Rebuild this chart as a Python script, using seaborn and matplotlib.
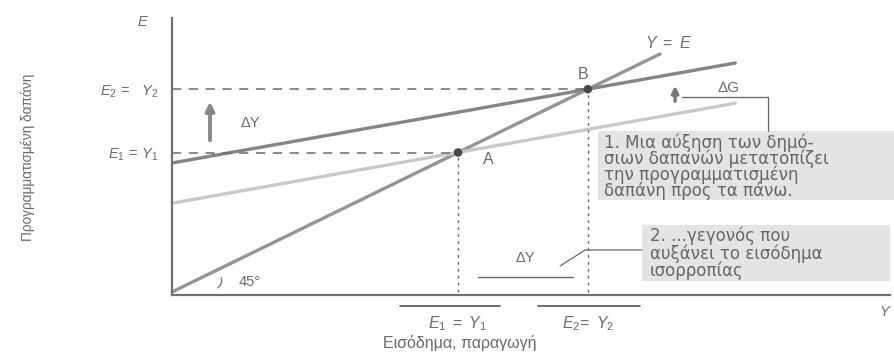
import numpy as np
import pandas as pd
import seaborn as sns
import matplotlib.pyplot as plt
import matplotlib.patches as patches

# Keynesian cross: government spending shift
income_45 = [0, 100]
spending_45 = [0, 100]
income_ends = [0, 115.4]
spending_E1 = [37.3, 79.3]   # planned spending before the shift
spending_E2 = [54.2, 96.2]   # planned spending after ΔG
eq_income = [58.6, 85.2]     # A, B
eq_names = ['A', 'B']
eq_ticklabels = [r'$E_1\ =\ Y_1$', r'$E_2\!=\ Y_2$']
eq_ylabels = [r'$E_1\,=\,Y_1$', r'$E_2\,=\,\ \ Y_2$']

box1_text = "1. Μια αύξηση των δημό-\nσιων δαπανών μετατοπίζει\nτην προγραμματισμένη\nδαπάνη προς τα πάνω."
box2_text = "2. ...γεγονός που\nαυξάνει το εισόδημα\nισορροπίας"

sns.set_style("white")
plt.rcParams['font.family'] = ['Liberation Sans', 'DejaVu Sans']
plt.rcParams['mathtext.fontset'] = 'custom'
plt.rcParams['mathtext.it'] = 'Liberation Sans:italic'
plt.rcParams['mathtext.rm'] = 'Liberation Sans'

txt = '#6a6a6a'
box_font = ['DejaVu Sans']

fig = plt.figure(figsize=(8.95, 3.53), dpi=100)
ax = fig.add_axes([172/895, 1 - 295/353, (890-172)/895, (295-18)/353])
ax.set_xlim(0, 147.1)
ax.set_ylim(-1.26, 115.1)


def at(px, py):
    # pixel position in the picture -> data coords
    return (px - 172) / 4.88, (292 - py) / 2.38


lines = pd.DataFrame({
    'Y': income_45 + income_ends + income_ends,
    'E': spending_45 + spending_E1 + spending_E2,
    'line': ['45'] * 2 + ['E1'] * 2 + ['E2'] * 2,
})
sns.lineplot(data=lines, x='Y', y='E', hue='line', ax=ax, legend=False,
             palette={'45': '#959595', 'E1': '#c9c9c9', 'E2': '#858585'},
             linewidth=2.4, estimator=None, sort=False)

# guides to the equilibria
for xv in eq_income:
    ax.plot([0, xv], [xv, xv], color='#6a6a6a', lw=1.1, ls=(0, (6, 5)))
    ax.plot([xv, xv], [0, xv], color='#6a6a6a', lw=1.0, ls=(0, (2, 3)))

pts = pd.DataFrame({'Y': eq_income, 'E': eq_income, 'name': eq_names})
sns.scatterplot(data=pts, x='Y', y='E', ax=ax, color='#4a4a4a', s=38,
                edgecolor='none', zorder=5)

for sp in ['top', 'right']:
    ax.spines[sp].set_visible(False)
for sp in ['left', 'bottom']:
    ax.spines[sp].set_color('#707070')
    ax.spines[sp].set_linewidth(1.6)

ax.set_xticks(eq_income)
ax.set_xticklabels(eq_ticklabels, fontsize=11.5, color=txt)
ax.set_yticks(eq_income)
ax.set_yticklabels(eq_ylabels, fontsize=10.5, color=txt)
ax.tick_params(axis='x', length=0, pad=14)
ax.tick_params(axis='y', length=0, pad=10)
ax.set_xlabel('')
ax.set_ylabel('')

# overlines above x tick labels
for x0, x1 in [(400, 500), (538, 640)]:
    a, yy = at(x0, 306)
    b, _ = at(x1, 306)
    ax.plot([a, b], [yy, yy], color='#555555', lw=1.2, clip_on=False)

ax.text(*at(460, 343), 'Εισόδημα, παραγωγή', fontsize=11.5, color=txt,
        ha='center', va='center')
ax.text(*at(28, 157), 'Προγραμματισμένη δαπάνη', fontsize=9.8, color=txt,
        rotation=90, ha='center', va='center')
ax.text(*at(143, 22), '$E$', fontsize=10.5, color=txt, ha='center', va='center')
ax.text(*at(885, 312), '$Y$', fontsize=10.5, color=txt, ha='center', va='center')
ax.text(*at(668, 43), '$Y\\ =\\ E$', fontsize=11.5, color=txt, ha='center', va='center')
ax.text(*at(488, 160), eq_names[0], fontsize=11.5, color=txt, ha='center', va='center')
ax.text(*at(583, 75), eq_names[1], fontsize=11.5, color=txt, ha='center', va='center')
ax.text(*at(250, 282), '45°', fontsize=10.5, color=txt, ha='center', va='center')
ax.text(*at(220, 283), ')', fontsize=9, color='#555555', ha='center', va='center',
        rotation=-20)

# ΔY arrow on the left
ax.annotate('', xy=at(210, 99), xytext=at(210, 143),
            arrowprops=dict(arrowstyle='-|>,head_width=0.25,head_length=0.5',
                            color='#888888', lw=2.8))
ax.text(*at(250, 123), 'ΔY', fontsize=10.5, color=txt, ha='center', va='center')

# ΔG arrow and leader to box 1
ax.annotate('', xy=at(675, 83), xytext=at(675, 104),
            arrowprops=dict(arrowstyle='-|>,head_width=0.2,head_length=0.4',
                            color='#777777', lw=2.4))
ax.text(*at(728, 88), 'ΔG', fontsize=11, color=txt, ha='center', va='center')
x0, y0 = at(682, 97)
x1, y1 = at(768, 131)
ax.plot([x0, x1, x1], [y0, y0, y1], color='#666666', lw=0.9, clip_on=False)

bx0, by0 = at(598, 200)
bx1, by1 = at(895, 131)
ax.add_patch(patches.Rectangle((bx0, by0), bx1 - bx0, by1 - by0,
                               facecolor='#e4e4e4', edgecolor='none',
                               clip_on=False, zorder=1))
ax.text(*at(604, 134), box1_text, fontsize=12, color='#666666', ha='left', va='top',
        linespacing=0.82, family=box_font, zorder=2)

bx0, by0 = at(642, 281)
bx1, by1 = at(890, 225)
ax.add_patch(patches.Rectangle((bx0, by0), bx1 - bx0, by1 - by0,
                               facecolor='#e4e4e4', edgecolor='none',
                               clip_on=False, zorder=1))
ax.text(*at(650, 227), box2_text, fontsize=12, color='#666666', ha='left', va='top',
        linespacing=0.9, family=box_font, zorder=2)

# leader from box 2 to the ΔY span on the axis
xa, ya = at(642, 250)
xb, yb = at(585, 250)
xc, yc = at(560, 266)
ax.plot([xa, xb, xc], [ya, yb, yc], color='#666666', lw=0.9)
ax.text(*at(525, 258), 'ΔY', fontsize=10.5, color=txt, ha='center', va='center')
u0, uy = at(478, 277)
u1, _ = at(573, 277)
ax.plot([u0, u1], [uy, uy], color='#666666', lw=1.0)

fig.savefig('out.png', dpi=100)
